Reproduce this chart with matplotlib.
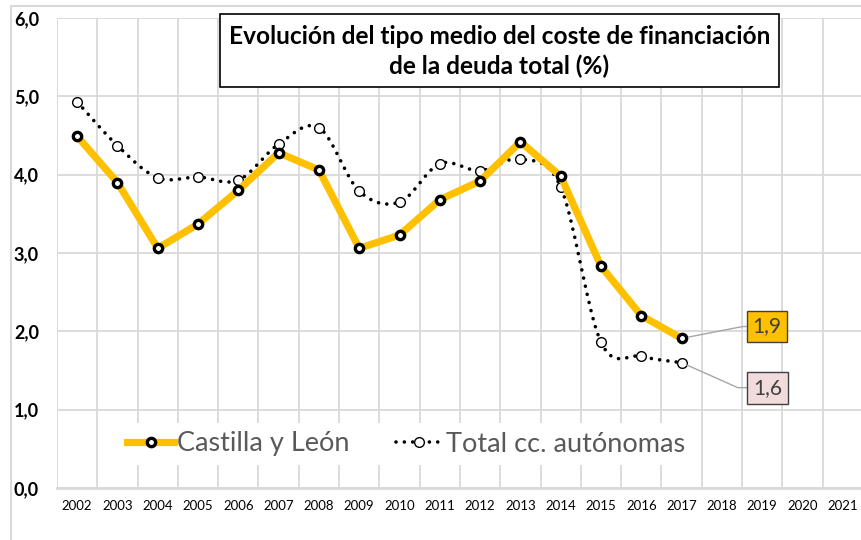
import numpy as np
import matplotlib
matplotlib.use("Agg")
import matplotlib.pyplot as plt
from matplotlib.patches import Rectangle
from matplotlib.lines import Line2D

plt.rcParams['font.family'] = ['Lato', 'DejaVu Sans']

years = [str(y) for y in range(2002, 2022)]
cyl_years = list(range(2002, 2018))
cyl = [4.49, 3.90, 3.06, 3.37, 3.80, 4.28, 4.06, 3.06, 3.23, 3.68, 3.92, 4.42, 3.98, 2.83, 2.20, 1.91]
total = [4.93, 4.37, 3.96, 3.97, 3.93, 4.39, 4.60, 3.79, 3.65, 4.14, 4.05, 4.20, 3.84, 1.86, 1.68, 1.60]
yticks = [0, 1, 2, 3, 4, 5, 6]
title = "Evolución del tipo medio del coste de financiación\nde la deuda total (%)"
series_names = ["Castilla y León", "Total cc. autónomas"]

W, H = 862, 540
fig = plt.figure(figsize=(W / 100, H / 100), dpi=100)
ax = fig.add_axes([57 / W, (H - 488) / H, 806 / W, 470 / H])

x = np.array([years.index(str(y)) for y in cyl_years], dtype=float)


def catmull_rom(xs, ys, n=20):
    pts = np.column_stack([xs, ys])
    P = np.vstack([pts[0], pts, pts[-1]])
    out = []
    for i in range(1, len(P) - 2):
        p0, p1, p2, p3 = P[i - 1], P[i], P[i + 1], P[i + 2]
        t = np.linspace(0, 1, n, endpoint=False)[:, None]
        seg = 0.5 * ((2 * p1) + (-p0 + p2) * t + (2 * p0 - 5 * p1 + 4 * p2 - p3) * t ** 2
                     + (-p0 + 3 * p1 - 3 * p2 + p3) * t ** 3)
        out.append(seg)
    out.append(pts[-1][None, :])
    o = np.vstack(out)
    return o[:, 0], o[:, 1]


grid_c = "#D9D9D9"
ax.set_xlim(-0.5, len(years) - 0.5)
ax.set_ylim(0, 6)
ax.set_yticks(yticks)
ax.set_yticklabels([f"{v:.1f}".replace(".", ",") for v in yticks], fontsize=13,
                   fontweight="bold", color="black")
ax.set_xticks(range(len(years)))
ax.set_xticklabels(years, fontsize=9.5, color="black")
ax.set_xticks(np.arange(-0.5, len(years), 1.0), minor=True)
ax.tick_params(axis="both", which="both", length=0)
ax.tick_params(axis="x", pad=9)
ax.grid(True, which="minor", axis="x", color=grid_c, lw=1.3)
ax.grid(True, which="major", axis="y", color=grid_c, lw=1.3)
ax.grid(False, which="major", axis="x")
ax.set_axisbelow(True)
for s in ["top", "right", "left"]:
    ax.spines[s].set_visible(False)
ax.spines["bottom"].set_color(grid_c)
ax.spines["bottom"].set_linewidth(2)
for lab in ax.get_yticklabels():
    lab.set_horizontalalignment("left")
ax.tick_params(axis="y", pad=31)

# Total line (smoothed)
sx, sy = catmull_rom(x, np.array(total))
ax.plot(sx, sy, color="black", lw=2.6, linestyle=(0, (0.01, 2.3)), dash_capstyle="round",
        zorder=3)
ax.plot(x, total, linestyle="none", marker="o", ms=7, mfc="white", mec="black", mew=1.0,
        zorder=4)
# CyL line
ax.plot(x, cyl, color="#FFC000", lw=5.2, solid_capstyle="butt", zorder=5)
ax.plot(x, cyl, linestyle="none", marker="o", ms=6, mfc="white", mec="black", mew=2.4,
        zorder=6)

# legend
h1 = Line2D([], [], color="#FFC000", lw=5.2, marker="o", ms=6, mfc="white", mec="black", mew=2.4)
h2 = Line2D([], [], color="black", lw=2.6, linestyle=(0, (0.01, 2.3)), dash_capstyle="round",
            marker="o", ms=7, mfc="white", mec="black", mew=1.0)
leg = ax.legend([h1, h2], series_names, loc="center",
                bbox_to_anchor=(406 / W, (H - 444) / H), bbox_transform=fig.transFigure,
                ncol=2, frameon=True, fontsize=19.5, handlelength=1.75, handletextpad=0.1,
                columnspacing=1.7, borderpad=0.3)
leg.get_frame().set_facecolor("white")
leg.get_frame().set_edgecolor("none")
leg.get_frame().set_alpha(1)
for t in leg.get_texts():
    t.set_color("#595959")

# data labels
ax.annotate(f"{cyl[-1]:.1f}".replace(".", ","), xy=(x[-1], cyl[-1]), xycoords="data",
            xytext=(51, 8.5), textcoords="offset points", ha="left", va="center",
            fontsize=15, color="#404040",
            bbox=dict(boxstyle="square,pad=0.28", fc="#FFC000", ec="#404040", lw=1),
            arrowprops=dict(arrowstyle="-", color="#A6A6A6", lw=1, shrinkA=0, shrinkB=5,
                            relpos=(0, 0.5),
                            connectionstyle="angle,angleA=0,angleB=11,rad=0"),
            zorder=7)
ax.annotate(f"{total[-1]:.1f}".replace(".", ","), xy=(x[-1], total[-1]), xycoords="data",
            xytext=(51.5, -18), textcoords="offset points", ha="left", va="center",
            fontsize=15, color="#404040",
            bbox=dict(boxstyle="square,pad=0.28", fc="#F2DCDB", ec="#404040", lw=1),
            arrowprops=dict(arrowstyle="-", color="#A6A6A6", lw=1, shrinkA=0, shrinkB=4,
                            relpos=(0, 0.5),
                            connectionstyle="angle,angleA=0,angleB=-24,rad=0"),
            zorder=7)

# title box
fig.add_artist(Rectangle((220 / W, 1 - 87 / H), (779 - 220) / W, 73 / H,
                         transform=fig.transFigure, fc="white", ec="black", lw=1.2, zorder=8))
fig.text(499.5 / W, 1 - 51.5 / H, title, ha="center", va="center", fontsize=17.6,
         fontweight="bold", linespacing=1.3, zorder=9)

# chart area border
fig.add_artist(Line2D([11 / W, 1], [1 - 6 / H, 1 - 6 / H], transform=fig.transFigure,
                      color=grid_c, lw=1.5))
fig.add_artist(Line2D([11 / W, 11 / W], [0, 1 - 6 / H], transform=fig.transFigure,
                      color=grid_c, lw=1.5))

fig.savefig("out.png", dpi=100)
